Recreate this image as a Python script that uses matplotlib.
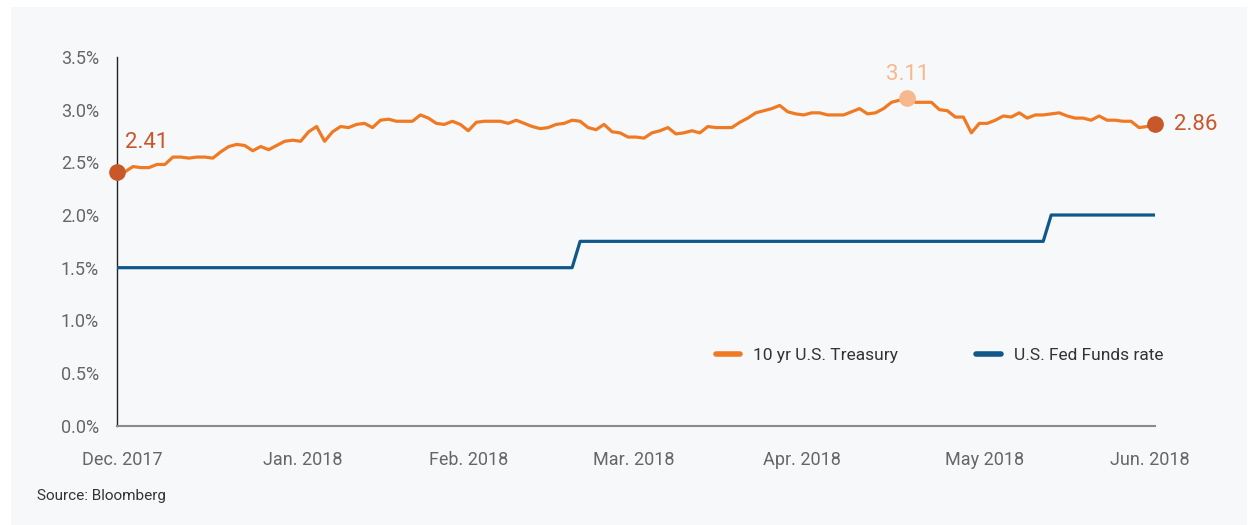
import matplotlib
matplotlib.use("Agg")
import matplotlib.pyplot as plt
from matplotlib.patches import Rectangle
import numpy as np

# daily values, Dec 2017 - Jun 2018 (trading days)
treasury = [
    2.41, 2.41, 2.46, 2.45, 2.45, 2.48, 2.48, 2.55, 2.55, 2.54,
    2.55, 2.55, 2.54, 2.60, 2.65, 2.67, 2.66, 2.61, 2.65, 2.62,
    2.66, 2.70, 2.71, 2.70, 2.79, 2.84, 2.70, 2.79, 2.84, 2.83,
    2.86, 2.87, 2.83, 2.90, 2.91, 2.89, 2.89, 2.89, 2.95, 2.92,
    2.87, 2.86, 2.89, 2.86, 2.80, 2.88, 2.89, 2.89, 2.89, 2.87,
    2.90, 2.87, 2.84, 2.82, 2.83, 2.86, 2.87, 2.90, 2.89, 2.83,
    2.81, 2.86, 2.79, 2.78, 2.74, 2.74, 2.73, 2.78, 2.80, 2.83,
    2.77, 2.78, 2.80, 2.78, 2.84, 2.83, 2.83, 2.83, 2.88, 2.92,
    2.97, 2.99, 3.01, 3.04, 2.98, 2.96, 2.95, 2.97, 2.97, 2.95,
    2.95, 2.95, 2.98, 3.01, 2.96, 2.97, 3.01, 3.07, 3.09, 3.11,
    3.07, 3.07, 3.07, 3.00, 2.99, 2.93, 2.93, 2.78, 2.87, 2.87,
    2.90, 2.94, 2.93, 2.97, 2.92, 2.95, 2.95, 2.96, 2.97, 2.94,
    2.92, 2.92, 2.90, 2.94, 2.90, 2.90, 2.89, 2.89, 2.83, 2.84,
    2.86,
]
fed_funds = [
    1.50, 1.50, 1.50, 1.50, 1.50, 1.50, 1.50, 1.50, 1.50, 1.50,
    1.50, 1.50, 1.50, 1.50, 1.50, 1.50, 1.50, 1.50, 1.50, 1.50,
    1.50, 1.50, 1.50, 1.50, 1.50, 1.50, 1.50, 1.50, 1.50, 1.50,
    1.50, 1.50, 1.50, 1.50, 1.50, 1.50, 1.50, 1.50, 1.50, 1.50,
    1.50, 1.50, 1.50, 1.50, 1.50, 1.50, 1.50, 1.50, 1.50, 1.50,
    1.50, 1.50, 1.50, 1.50, 1.50, 1.50, 1.50, 1.50, 1.75, 1.75,
    1.75, 1.75, 1.75, 1.75, 1.75, 1.75, 1.75, 1.75, 1.75, 1.75,
    1.75, 1.75, 1.75, 1.75, 1.75, 1.75, 1.75, 1.75, 1.75, 1.75,
    1.75, 1.75, 1.75, 1.75, 1.75, 1.75, 1.75, 1.75, 1.75, 1.75,
    1.75, 1.75, 1.75, 1.75, 1.75, 1.75, 1.75, 1.75, 1.75, 1.75,
    1.75, 1.75, 1.75, 1.75, 1.75, 1.75, 1.75, 1.75, 1.75, 1.75,
    1.75, 1.75, 1.75, 1.75, 1.75, 1.75, 1.75, 2.00, 2.00, 2.00,
    2.00, 2.00, 2.00, 2.00, 2.00, 2.00, 2.00, 2.00, 2.00, 2.00,
    2.00,
]
month_labels = ["Dec. 2017", "Jan. 2018", "Feb. 2018", "Mar. 2018",
                "Apr. 2018", "May 2018", "Jun. 2018"]
month_pos = [0.6, 23.3, 44.1, 64.7, 85.8, 108.6, 129.4]
y_ticks = [0.0, 0.5, 1.0, 1.5, 2.0, 2.5, 3.0, 3.5]

orange = "#F07A24"
dark_orange = "#C8572A"
light_orange = "#F6B88C"
blue = "#0F5889"

plt.rcParams['font.family'] = ['Roboto', 'DejaVu Sans']

fig = plt.figure(figsize=(12.54, 5.25), dpi=100)
fig.patch.set_facecolor("white")
fig.patches.append(Rectangle((11 / 1254, 0), 1236 / 1254, 518 / 525,
                             transform=fig.transFigure, facecolor="#F7F8FA",
                             edgecolor="none", zorder=-10))

ax = fig.add_axes([117 / 1254, 1 - 425.7 / 525, 1038 / 1254, 368.7 / 525])
ax.set_facecolor("none")
ax.set_zorder(2)

days = np.arange(len(treasury))
ax.plot(days, treasury, color=orange, lw=2.3, solid_joinstyle="round",
        label="10 yr U.S. Treasury", zorder=3)
ax.plot(days, fed_funds, color=blue, lw=2.3, label="U.S. Fed Funds rate", zorder=3)

# highlighted points: start, peak, end
i_peak = int(np.argmax(treasury))
i_end = len(treasury) - 1
ax.plot([0, i_end], [treasury[0], treasury[i_end]], "o", color=dark_orange,
        ms=11, clip_on=False, zorder=4)
ax.plot([i_peak], [treasury[i_peak]], "o", color=light_orange, ms=11,
        clip_on=False, zorder=4)
ax.annotate(f"{treasury[0]:.2f}", (0, treasury[0]), xytext=(6, 21),
            textcoords="offset points", color=dark_orange, fontsize=16,
            ha="left", va="center")
ax.annotate(f"{treasury[i_peak]:.2f}", (i_peak, treasury[i_peak]), xytext=(0, 17),
            textcoords="offset points", color=light_orange, fontsize=16,
            ha="center", va="center")
ax.annotate(f"{treasury[i_end]:.2f}", (i_end, treasury[i_end]), xytext=(14, 0),
            textcoords="offset points", color=dark_orange, fontsize=16,
            ha="left", va="center")

ax.set_xlim(0, i_end)
ax.set_ylim(0, 3.5)
ax.set_yticks(y_ticks)
ax.set_yticklabels([f"{v:.1f}%" for v in y_ticks])
ax.set_xticks(month_pos)
ax.set_xticklabels(month_labels)
ax.tick_params(axis="y", length=0, pad=13, labelsize=13, labelcolor="#666666")
ax.tick_params(axis="x", length=0, pad=18, labelsize=13, labelcolor="#666666")

for side in ["top", "right"]:
    ax.spines[side].set_visible(False)
ax.spines["left"].set_color("#222222")
ax.spines["left"].set_linewidth(1.0)
ax.spines["bottom"].set_color("#8A8A8A")
ax.spines["bottom"].set_linewidth(1.5)

leg = ax.legend(loc="center left", bbox_to_anchor=(716 / 1254, 1 - 355 / 525),
                bbox_transform=fig.transFigure, ncol=2, frameon=False,
                fontsize=12.5, handlelength=1.4, handletextpad=0.75,
                columnspacing=4.5, borderpad=0, borderaxespad=0)
for h in leg.legend_handles:
    h.set_linewidth(4)
    h.set_solid_capstyle("round")
for t in leg.get_texts():
    t.set_color("#333333")

fig.text(37 / 1254, 1 - 496 / 525, "Source: Bloomberg", fontsize=11,
         color="#333333", ha="left", va="center")

fig.savefig("out.png", dpi=100, facecolor=fig.get_facecolor())
